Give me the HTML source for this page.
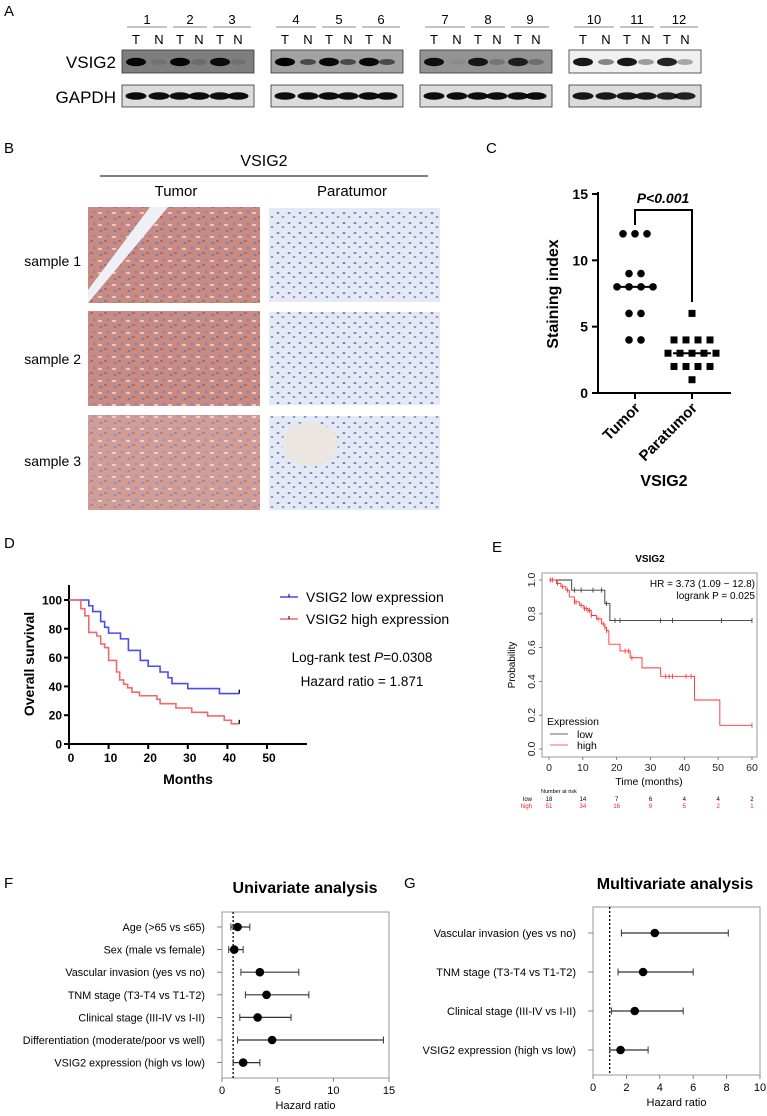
<!DOCTYPE html>
<html><head><meta charset="utf-8">
<style>
html,body{margin:0;padding:0;background:#fff;}
svg{display:block;font-family:"Liberation Sans",Arial,sans-serif;}
.cond{font-family:"Liberation Sans Narrow","Liberation Sans",sans-serif;}
</style></head>
<body>
<svg id="fig" width="767" height="1116" viewBox="0 0 767 1116" xmlns="http://www.w3.org/2000/svg">
<defs>
  <pattern id="tumorPat" width="14" height="12" patternUnits="userSpaceOnUse">
    <rect width="14" height="12" fill="#c98a82"/>
    <ellipse cx="3" cy="3" rx="1.6" ry="1.1" fill="#6f7fb8"/>
    <ellipse cx="10" cy="8" rx="1.5" ry="1.1" fill="#7a86bd"/>
    <rect x="6" y="0" width="3" height="2" fill="#b06a62"/>
    <rect x="0" y="8" width="4" height="2" fill="#e7c8c2"/>
  </pattern>
  <pattern id="paraPat" width="11" height="10" patternUnits="userSpaceOnUse">
    <rect width="11" height="10" fill="#e4e9f3"/>
    <ellipse cx="3" cy="3" rx="1.5" ry="0.9" fill="#5c74c6"/>
    <ellipse cx="8" cy="7" rx="1.4" ry="0.9" fill="#6b81cc"/>
  </pattern>
</defs>

<text x="4" y="16" font-size="15" class="cond">A</text>
<text x="4" y="153" font-size="15" class="cond">B</text>
<text x="486" y="153" font-size="15" class="cond">C</text>
<text x="4" y="548" font-size="15" class="cond">D</text>
<text x="492" y="552" font-size="15" class="cond">E</text>
<text x="4" y="888" font-size="15" class="cond">F</text>
<text x="404" y="888" font-size="15" class="cond">G</text>

<g id="panelA">
  <text x="116" y="68" font-size="17" text-anchor="end" class="cond">VSIG2</text>
  <text x="116" y="103" font-size="17" text-anchor="end" class="cond">GAPDH</text>
</g>

<g id="panelB">
  <text x="264" y="166" font-size="16" text-anchor="middle">VSIG2</text>
  <line x1="100" y1="176" x2="428" y2="176" stroke="#000" stroke-width="1"/>
  <text x="176" y="196" font-size="15" text-anchor="middle">Tumor</text>
  <text x="352" y="196" font-size="15" text-anchor="middle">Paratumor</text>
  <text x="81" y="266" font-size="14" text-anchor="end">sample 1</text>
  <text x="81" y="364" font-size="14" text-anchor="end">sample 2</text>
  <text x="81" y="466" font-size="14" text-anchor="end">sample 3</text>
  <rect x="88" y="207" width="172" height="96" fill="url(#tumorPat)"/>
  <polygon points="88,290 150,207 168,207 88,303" fill="#eef0f5"/>
  <rect x="88" y="311" width="172" height="95" fill="url(#tumorPat)"/>
  <rect x="88" y="415" width="172" height="95" fill="url(#tumorPat)" opacity="0.85"/>
  <rect x="269" y="208" width="171" height="94" fill="url(#paraPat)"/>
  <rect x="269" y="312" width="171" height="93" fill="url(#paraPat)"/>
  <rect x="269" y="416" width="171" height="94" fill="url(#paraPat)"/>
  <ellipse cx="310" cy="444" rx="28" ry="22" fill="#ebe6e2"/>
</g>

<g id="panelC"></g>
<g id="panelD"></g>
<g id="panelE"></g>
<g id="panelF"></g>
<g id="panelG"></g>
</svg>

<script>
const blotSamples = ["1","2","3","4","5","6","7","8","9","10","11","12"];
const vsig2TumorIntensity = [0.95,0.95,0.9,1.0,0.95,0.95,0.9,0.85,0.8,0.9,0.9,0.85];
const vsig2NormalIntensity = [0.1,0.15,0.1,0.55,0.55,0.55,0.05,0.2,0.25,0.45,0.35,0.3];
const gapdhIntensity = [0.95,0.95,0.95,0.95,0.95,0.95,0.95,0.95,0.95,0.9,0.9,0.85];
const blotBoxBg = ["#7e7e7e","#a2a2a2","#939393","#f0f0f0"];

const tumorIndex = [12,12,12,9,9,8,8,8,8,6,6,4,4];
const paratumorIndex = [6,4,4,4,4,3,3,3,3,3,2,2,2,2,1];
const cTicks = [0,5,10,15];
const cMedians = [8,3];

const dLowMonths = [0,5,6,8,9,10,13,15,18,20,23,25,26,30,38,43];
const dLowSurv = [100,96,92,85,81,77,73,65,58,54,50,46,42,38.5,35,35];
const dHighMonths = [0,3,4,5,7,8,9,10,12,12.8,13.8,14.8,15.9,17.8,22.2,23,27,31,35,39.2,41,43];
const dHighSurv = [100,94,89,77.5,75,69.5,67,58,50,44.5,41.5,39,36,33.5,31,28,25,22,19.5,16.5,14,14];
const dYTicks = [0,20,40,60,80,100];
const dXTicks = [0,10,20,30,40,50];

const eLowTimes = [0,6.7,16.5,18,60];
const eLowProb = [1,0.94,0.86,0.76,0.76];
const eLowCensor = [7.5,9.5,13,15.5,17,19.5,21,33,36.5,51,60];
const eHighTimes = [0,2.2,3.5,5,6,7.5,9,10.3,11.5,12.5,14,15.5,16.5,17,17.7,21,24,27.5,33,43,50.5,60];
const eHighProb = [1,0.98,0.96,0.94,0.9,0.87,0.85,0.83,0.82,0.79,0.77,0.74,0.72,0.70,0.62,0.58,0.54,0.48,0.43,0.29,0.14,0.14];
const eHighCensor = [0.5,1,2.5,4,5.5,7.5,8,9.5,10.5,11,11.5,12,12.5,14.5,16,16.5,17,22.5,23.5,24.5,34.5,35.5,36.5,40.5,42,60];
const eXTicks = [0,10,20,30,40,50,60];
const eYTicks = [0,0.2,0.4,0.6,0.8,1.0];
const riskLow = [18,14,7,6,4,4,2];
const riskHigh = [51,34,16,9,5,2,1];

const fLabels = ["Age (>65 vs ≤65)","Sex (male vs female)","Vascular invasion (yes vs no)","TNM stage (T3-T4 vs T1-T2)","Clinical stage (III-IV vs I-II)","Differentiation (moderate/poor vs well)","VSIG2 expression (high vs low)"];
const fHR = [1.4,1.1,3.4,4.0,3.2,4.5,1.9];
const fLow = [0.8,0.6,1.7,2.1,1.6,1.4,1.0];
const fHigh = [2.5,1.9,6.9,7.8,6.2,14.5,3.4];
const fTicks = [0,5,10,15];

const gLabels = ["Vascular invasion (yes vs no)","TNM stage (T3-T4 vs T1-T2)","Clinical stage (III-IV vs I-II)","VSIG2 expression (high vs low)"];
const gHR = [3.7,3.0,2.5,1.65];
const gLow = [1.7,1.5,1.1,1.0];
const gHigh = [8.1,6.0,5.4,3.3];
const gTicks = [0,2,4,6,8,10];

const NS="http://www.w3.org/2000/svg";
function mk(parent,tag,attrs,text){const e=document.createElementNS(NS,tag);for(const k in attrs)e.setAttribute(k,attrs[k]);if(text!==undefined)e.textContent=text;parent.appendChild(e);return e;}

(function(){
  const g=document.getElementById('panelA');
  const boxX=[122,271,420,569], boxW=132;
  const laneOff=[14,37,58,77,98,116];
  const ulOff=[[5,45],[51,85],[91,129]];
  for(let b=0;b<4;b++){
    const x0=boxX[b];
    const r1=mk(g,'rect',{x:x0,y:50,width:boxW,height:23,fill:blotBoxBg[b],stroke:'#333','stroke-width':0.8});
    
    
    const r2=mk(g,'rect',{x:x0,y:85,width:boxW,height:22,fill:'#dcdcdc',stroke:'#333','stroke-width':0.8});
    
    
    for(let s=0;s<3;s++){
      const idx=b*3+s;
      const u=ulOff[s];
      const ln=mk(g,'line',{x1:x0+u[0],y1:27,x2:x0+u[1],y2:27,stroke:'#888','stroke-width':1});
      
      
      const t=mk(g,'text',{x:x0+(u[0]+u[1])/2,y:24,'font-size':13,'text-anchor':'middle',class:'cond'},blotSamples[idx]);
      
      
      const tx=x0+laneOff[s*2], nx=x0+laneOff[s*2+1];
      const tt=mk(g,'text',{x:tx,y:44,'font-size':13,'text-anchor':'middle',class:'cond'},'T');
      
      
      const nt=mk(g,'text',{x:nx,y:44,'font-size':13,'text-anchor':'middle',class:'cond'},'N');
      
      
      const bt=mk(g,'ellipse',{cx:tx,cy:62,rx:10,ry:4.2,fill:'#000','fill-opacity':vsig2TumorIntensity[idx]});
      
      
      const bn=mk(g,'ellipse',{cx:nx,cy:62,rx:8,ry:3,fill:'#000','fill-opacity':vsig2NormalIntensity[idx]});
      
      
      [tx,nx].forEach(xx=>{
        const gb=mk(g,'ellipse',{cx:xx,cy:96,rx:10.5,ry:3.8,fill:'#000','fill-opacity':gapdhIntensity[idx]});
        
        
      });
    }
  }
})();

(function(){
  const g=document.getElementById('panelC');
  const y=v=>393-v*(199/15);
  const xs=[635,692];
  mk(g,'line',{x1:598,y1:192,x2:598,y2:394,stroke:'#000','stroke-width':2});
  mk(g,'line',{x1:597,y1:393,x2:731,y2:393,stroke:'#000','stroke-width':2});
  cTicks.forEach(v=>{
    const l=mk(g,'line',{x1:592,y1:y(v),x2:598,y2:y(v),stroke:'#000','stroke-width':2});
    
    
    const t=mk(g,'text',{x:588,y:y(v)+5,'font-size':14,'font-weight':'bold','text-anchor':'end'},String(v));
    
    
  });
  xs.forEach(x=>mk(g,'line',{x1:x,y1:393,x2:x,y2:399,stroke:'#000','stroke-width':2}));
  const yl=mk(g,'text',{x:0,y:0,'font-size':16,'font-weight':'bold','text-anchor':'middle',transform:'translate(558,294) rotate(-90)'},'Staining index');
  
  
  const xl1=mk(g,'text',{x:0,y:0,'font-size':15,'font-weight':'bold','text-anchor':'end',transform:'translate(641,409) rotate(-45)'},'Tumor');
  
  
  const xl2=mk(g,'text',{x:0,y:0,'font-size':15,'font-weight':'bold','text-anchor':'end',transform:'translate(698,409) rotate(-45)'},'Paratumor');
  
  
  const xt=mk(g,'text',{x:664,y:486,'font-size':16,'font-weight':'bold','text-anchor':'middle'},'VSIG2');
  
  
  const br=mk(g,'polyline',{points:`${xs[0]},225 ${xs[0]},210 ${xs[1]},210 ${xs[1]},302`,fill:'none',stroke:'#000','stroke-width':2});
  
  
  const pt=mk(g,'text',{x:663,y:203,'font-size':14,'font-weight':'bold','font-style':'italic','text-anchor':'middle'},'P<0.001');
  
  
  [tumorIndex,paratumorIndex].forEach((arr,gi)=>{
    const counts={};arr.forEach(v=>counts[v]=(counts[v]||0)+1);
    const seen={};
    arr.forEach(v=>{
      const n=counts[v];const k=seen[v]||0;seen[v]=k+1;
      const cx=xs[gi]+(k-(n-1)/2)*12;
      let m;
      if(gi===0){m=mk(g,'circle',{cx:cx,cy:y(v),r:3.8,fill:'#000'});}
      else{m=mk(g,'rect',{x:cx-3.5,y:y(v)-3.5,width:7,height:7,fill:'#000'});}
      
    });
  });
  cMedians.forEach((v,i)=>{
    const l=mk(g,'line',{x1:xs[i]-19,y1:y(v),x2:xs[i]+19,y2:y(v),stroke:'#000','stroke-width':2});
    
    
  });
})();

(function(){
  const g=document.getElementById('panelD');
  const x=m=>69+m*3.96, y=v=>744-v*1.44;
  mk(g,'line',{x1:69,y1:585,x2:69,y2:745,stroke:'#000','stroke-width':2});
  mk(g,'line',{x1:68,y1:744,x2:307,y2:744,stroke:'#000','stroke-width':2});
  dYTicks.forEach(v=>{
    mk(g,'line',{x1:64,y1:y(v),x2:69,y2:y(v),stroke:'#000','stroke-width':2});
    const t=mk(g,'text',{x:62,y:y(v)+4.5,'font-size':12,'font-weight':'bold','text-anchor':'end'},String(v));
    
    
  });
  dXTicks.forEach(v=>{
    mk(g,'line',{x1:x(v),y1:744,x2:x(v),y2:749,stroke:'#000','stroke-width':2});
    const t=mk(g,'text',{x:x(v)+2,y:762,'font-size':12,'font-weight':'bold','text-anchor':'middle'},String(v));
    
    
  });
  const yl=mk(g,'text',{x:0,y:0,'font-size':14,'font-weight':'bold','text-anchor':'middle',transform:'translate(34,664) rotate(-90)'},'Overall survival');
  
  
  const xl=mk(g,'text',{x:188,y:784,'font-size':14,'font-weight':'bold','text-anchor':'middle'},'Months');
  
  
  function step(ms,vs){let p=`M${x(ms[0])},${y(vs[0])}`;for(let i=1;i<ms.length;i++){p+=` H${x(ms[i])} V${y(vs[i])}`;}return p;}
  const lo=mk(g,'path',{d:step(dLowMonths,dLowSurv),fill:'none',stroke:'#4a4af0','stroke-width':1.6});
  
  
  const hi=mk(g,'path',{d:step(dHighMonths,dHighSurv),fill:'none',stroke:'#f06a6a','stroke-width':1.6});
  
  
  [[dLowMonths,dLowSurv],[dHighMonths,dHighSurv]].forEach(([ms,vs])=>{
    const L=ms.length-1;mk(g,'line',{x1:x(ms[L]),y1:y(vs[L])-4,x2:x(ms[L]),y2:y(vs[L]),stroke:'#000','stroke-width':1.3});
  });
  const legs=[["VSIG2 low expression","#4a4af0",597],["VSIG2 high expression","#f06a6a",619]];
  legs.forEach(([t,c,yy])=>{
    const l=mk(g,'line',{x1:280,y1:yy,x2:298,y2:yy,stroke:c,'stroke-width':1.6});
    
    
    mk(g,'line',{x1:289,y1:yy-3,x2:289,y2:yy,stroke:'#000','stroke-width':1});
    const tx=mk(g,'text',{x:306,y:yy+5,'font-size':14,class:'cond'},t);
    
    
  });
  const a=mk(g,'text',{x:362,y:662,'font-size':13.5,'text-anchor':'middle',class:'cond'});
  
  
  mk(a,'tspan',{},'Log-rank test ');mk(a,'tspan',{'font-style':'italic'},'P');mk(a,'tspan',{},'=0.0308');
  const b=mk(g,'text',{x:362,y:686,'font-size':13.5,'text-anchor':'middle',class:'cond'},'Hazard ratio = 1.871');
  
  
})();

(function(){
  const g=document.getElementById('panelE');
  const x=t=>549+t*3.383, y=p=>749-p*169;
  const bx=mk(g,'rect',{x:542,y:573,width:215,height:184,fill:'none',stroke:'#999','stroke-width':1});
  
  
  const tt=mk(g,'text',{x:650,y:562,'font-size':10,'font-weight':'bold','text-anchor':'middle'},'VSIG2');
  
  
  eYTicks.forEach(v=>{
    mk(g,'line',{x1:539,y1:y(v),x2:542,y2:y(v),stroke:'#666','stroke-width':0.8});
    const t=mk(g,'text',{x:0,y:0,'font-size':10.5,'text-anchor':'middle',fill:'#222',transform:`translate(535,${y(v)}) rotate(-90)`},v.toFixed(1));
    
    
  });
  eXTicks.forEach(v=>{
    mk(g,'line',{x1:x(v),y1:757,x2:x(v),y2:760,stroke:'#666','stroke-width':0.8});
    const t=mk(g,'text',{x:x(v),y:771,'font-size':10.5,'text-anchor':'middle',fill:'#222'},String(v));
    
    
  });
  const yl=mk(g,'text',{x:0,y:0,'font-size':10,'text-anchor':'middle',transform:'translate(515,665) rotate(-90)'},'Probability');
  
  
  const xl=mk(g,'text',{x:649,y:785,'font-size':10.5,'text-anchor':'middle'},'Time (months)');
  
  
  function step(ts,ps){let p=`M${x(ts[0])},${y(ps[0])}`;for(let i=1;i<ts.length;i++){p+=` H${x(ts[i])} V${y(ps[i])}`;}return p;}
  function probAt(ts,ps,t){let p=ps[0];for(let i=0;i<ts.length;i++){if(ts[i]<=t)p=ps[i];}return p;}
  const lo=mk(g,'path',{d:step(eLowTimes,eLowProb),fill:'none',stroke:'#333','stroke-width':0.9});
  
  
  const hi=mk(g,'path',{d:step(eHighTimes,eHighProb),fill:'none',stroke:'#ff3030','stroke-width':0.9});
  
  
  eLowCensor.forEach(t=>{const py=y(probAt(eLowTimes,eLowProb,t));const c=mk(g,'line',{x1:x(t),y1:py-2.5,x2:x(t),y2:py+2.5,stroke:'#333','stroke-width':0.8});});
  eHighCensor.forEach(t=>{const py=y(probAt(eHighTimes,eHighProb,t));const c=mk(g,'line',{x1:x(t),y1:py-2.5,x2:x(t),y2:py+2.5,stroke:'#ff3030','stroke-width':0.8});});
  const h1=mk(g,'text',{x:755,y:587,'font-size':10,'text-anchor':'end'},'HR = 3.73 (1.09 − 12.8)');
  
  
  const h2=mk(g,'text',{x:755,y:599,'font-size':10,'text-anchor':'end'},'logrank P = 0.025');
  
  
  const le=mk(g,'text',{x:547,y:725,'font-size':10.5},'Expression');
  
  
  [["low","#333",734],["high","#ff3030",745]].forEach(([t,c,yy])=>{
    mk(g,'line',{x1:550,y1:yy,x2:568,y2:yy,stroke:c,'stroke-width':0.8});
    const tx=mk(g,'text',{x:577,y:yy+4,'font-size':10.5},t);
    
    
  });
  const nr=mk(g,'text',{x:541,y:793,'font-size':5.5},'Number at risk');
  
  
  mk(g,'text',{x:532,y:801,'font-size':6,'text-anchor':'end'},'low');
  mk(g,'text',{x:532,y:808,'font-size':6,'text-anchor':'end',fill:'#ff2020'},'high');
  eXTicks.forEach((t,i)=>{
    const a=mk(g,'text',{x:x(t),y:801,'font-size':6,'text-anchor':'middle'},String(riskLow[i]));
    
    
    const b=mk(g,'text',{x:x(t),y:808,'font-size':6,'text-anchor':'middle',fill:'#ff2020'},String(riskHigh[i]));
    
    
  });
})();

function forest(id,cfg,labels,hr,lo,hi,ticks){
  const g=document.getElementById(id);
  const x=v=>cfg.x0+v*(cfg.x1-cfg.x0)/cfg.max;
  const fr=mk(g,'rect',{x:cfg.x0,y:cfg.top,width:cfg.x1-cfg.x0,height:cfg.bot-cfg.top,fill:'none',stroke:'#999','stroke-width':1});
  
  
  const tt=mk(g,'text',{x:cfg.tx,y:cfg.ty,'font-size':16,'font-weight':'bold','text-anchor':'middle',class:'cond'},cfg.title);
  
  
  const ref=mk(g,'line',{x1:x(1),y1:cfg.top,x2:x(1),y2:cfg.bot,stroke:'#000','stroke-width':1.3,'stroke-dasharray':'2,2'});
  
  
  ticks.forEach(v=>{
    mk(g,'line',{x1:x(v),y1:cfg.bot,x2:x(v),y2:cfg.bot+4,stroke:'#666','stroke-width':0.8});
    const t=mk(g,'text',{x:x(v),y:cfg.bot+16,'font-size':11,'text-anchor':'middle'},String(v));
    
    
  });
  const xl=mk(g,'text',{x:(cfg.x0+cfg.x1)/2,y:cfg.bot+31,'font-size':11,'text-anchor':'middle'},'Hazard ratio');
  
  
  labels.forEach((lab,i)=>{
    const yy=cfg.row0+i*cfg.dy;
    const t=mk(g,'text',{x:cfg.x0-17,y:yy+4,'font-size':cfg.fs,'text-anchor':'end'},lab);
    
    
    mk(g,'line',{x1:cfg.x0-5,y1:yy,x2:cfg.x0,y2:yy,stroke:'#666','stroke-width':0.8});
    const ci=mk(g,'line',{x1:x(lo[i]),y1:yy,x2:x(hi[i]),y2:yy,stroke:'#333','stroke-width':1.2});
    
    
    mk(g,'line',{x1:x(lo[i]),y1:yy-3.5,x2:x(lo[i]),y2:yy+3.5,stroke:'#333','stroke-width':1});
    mk(g,'line',{x1:x(hi[i]),y1:yy-3.5,x2:x(hi[i]),y2:yy+3.5,stroke:'#333','stroke-width':1});
    const p=mk(g,'circle',{cx:x(hr[i]),cy:yy,r:4.3,fill:'#000'});
    
    
  });
}
forest('panelF',{x0:222,x1:389,max:15,top:912,bot:1078,row0:927,dy:22.6,tx:305,ty:893,fs:10.8,title:'Univariate analysis'},fLabels,fHR,fLow,fHigh,fTicks);
forest('panelG',{x0:593,x1:760,max:10,top:907,bot:1075,row0:933,dy:39,tx:675,ty:889,fs:11,title:'Multivariate analysis'},gLabels,gHR,gLow,gHigh,gTicks);
</script>
</body></html>
